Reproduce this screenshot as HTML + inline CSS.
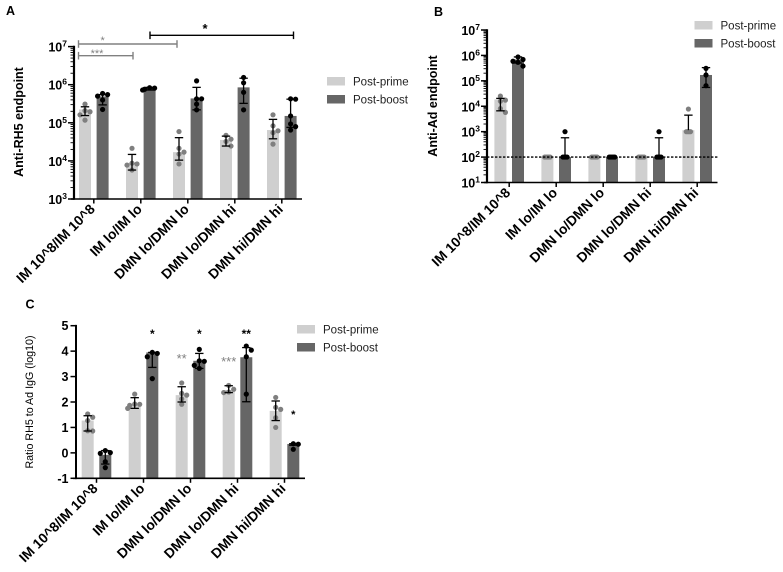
<!DOCTYPE html>
<html lang="en">
<head>
<meta charset="utf-8">
<title>Anti-RH5 and Anti-Ad endpoint charts</title>
<style>
html,body{margin:0;padding:0;background:#fff;}
svg{display:block;font-family:"Liberation Sans",sans-serif;filter:blur(0.3px);}
</style>
</head>
<body>
<svg id="figure" width="783" height="572" viewBox="0 0 783 572" xmlns="http://www.w3.org/2000/svg"></svg>
<script>
// Shared categories and labels
const categories = ['IM 10^8/IM 10^8', 'IM lo/IM lo', 'DMN lo/DMN lo', 'DMN lo/DMN hi', 'DMN hi/DMN hi'];
const seriesNames = ['Post-prime', 'Post-boost'];

// Panel A: log10 endpoint values
const aTickExponents = [3, 4, 5, 6, 7];
const aPrimeBars = [5.35, 3.94, 4.23, 4.55, 4.81];
const aBoostBars = [5.69, 5.93, 5.64, 5.93, 5.18];
const aPrimeHigh = [5.42, 4.17, 4.61, 4.65, 5.09];
const aPrimeLow = [5.19, 3.76, 4.02, 4.39, 4.58];
const aBoostHigh = [5.74, 5.93, 5.93, 6.17, 5.62];
const aBoostLow = [5.47, 5.86, 5.34, 5.51, 4.88];
const aPrimePoints = [
  [5.49, 5.32, 5.29, 5.21, 5.07],
  [4.33, 3.94, 3.92, 3.89, 3.76],
  [4.77, 4.33, 4.23, 4.18, 3.92],
  [4.67, 4.57, 4.51, 4.39],
  [5.21, 4.92, 4.79, 4.74, 4.44]
];
const aBoostPoints = [
  [5.77, 5.74, 5.70, 5.60, 5.35],
  [5.92, 5.91, 5.88, 5.86],
  [6.10, 5.63, 5.63, 5.49, 5.34],
  [6.19, 6.05, 5.80, 5.34],
  [5.63, 5.62, 5.18, 4.97, 4.90, 4.81]
];

// Panel B: log10 endpoint values
const bTickExponents = [1, 2, 3, 4, 5, 6, 7];
const bPrimeBars = [4.27, 2, 2, 2, 3.06];
const bBoostBars = [5.84, 2, 2, 2, 5.23];
const bPrimeHigh = [4.31, 2, 2, 2, 3.65];
const bPrimeLow = [3.82, 2, 2, 2, 3.06];
const bBoostHigh = [5.94, 2.76, 2, 2.76, 5.52];
const bBoostLow = [5.70, 2, 2, 2, 4.74];
const bThreshold = 2;
const bPrimePoints = [
  [4.40, 4.24, 4.20, 3.91, 3.76],
  [2, 2, 2, 2, 2],
  [2, 2, 2, 2, 2],
  [2, 2, 2, 2, 2],
  [3.89, 3, 3, 3, 3]
];
const bBoostPoints = [
  [5.94, 5.84, 5.77, 5.73, 5.58],
  [3, 2, 2, 2, 2],
  [2, 2, 2, 2, 2],
  [3, 2, 2, 2, 2],
  [5.49, 5.23, 4.81]
];

// Panel C: ratio values
const cTicks = [-1, 0, 1, 2, 3, 4, 5];
const cPrimeBars = [1.27, 1.88, 2.27, 2.47, 1.65];
const cBoostBars = [-0.08, 3.95, 3.62, 3.76, 0.35];
const cPrimeHigh = [1.46, 2.17, 2.60, 2.64, 2.04];
const cPrimeLow = [0.86, 1.75, 2.00, 2.37, 1.27];
const cBoostHigh = [0.09, 3.95, 3.91, 4.14, 0.36];
const cBoostLow = [-0.44, 3.36, 3.32, 2.01, 0.30];
const cPrimePoints = [
  [1.53, 1.40, 1.27, 0.87, 0.86],
  [2.31, 1.92, 1.91, 1.87, 1.75],
  [2.75, 2.34, 2.27, 2.12, 1.91],
  [2.65, 2.50, 2.39, 2.37],
  [2.18, 1.79, 1.71, 1.38, 1.00]
];
const cBoostPoints = [
  [0.09, 0.01, -0.02, -0.35, -0.58],
  [3.95, 3.91, 3.78, 2.92],
  [4.07, 3.62, 3.60, 3.44, 3.32],
  [4.20, 4.04, 3.78, 2.31],
  [0.36, 0.34, 0.14]
];
const cPrimeStars = ['', '', '**', '***', ''];
const cPrimeStarLevels = [0, 0, 3.53, 3.42, 0];
const cBoostStars = ['', '*', '*', '**', '*'];
const cBoostStarLevels = [0, 4.52, 4.52, 4.52, 1.37];

const NS = 'http://www.w3.org/2000/svg';
const root = document.getElementById('figure');
const PRIME = '#cfcfcf', BOOST = '#666666', PRIME_DOT = '#7f7f7f', BOOST_DOT = '#000000';

function add(parent, tag, attrs, name) {
  const el = document.createElementNS(NS, tag);
  for (const k in attrs) el.setAttribute(k, attrs[k]);
  
  
  parent.appendChild(el);
  return el;
}
function line(parent, x1, y1, x2, y2, color, width, name) {
  return add(parent, 'line', {x1: x1, y1: y1, x2: x2, y2: y2, stroke: color, 'stroke-width': width}, name);
}
function label(parent, x, y, text, size, weight, anchor, fill, name, transform) {
  const attrs = {x: x, y: y, 'font-size': size, 'font-weight': weight, 'text-anchor': anchor, fill: fill};
  if (transform) attrs.transform = transform;
  const el = add(parent, 'text', attrs, name);
  el.textContent = text;
  return el;
}
// Beeswarm offsets computed from the values through the y axis
function swarm(values, yScale) {
  const counts = {};
  values.forEach(v => { counts[v] = (counts[v] || 0) + 1; });
  const seen = {}, placed = [];
  const candidates = [0, 5, -5, 2.5, -2.5, 7, -7];
  return values.map(v => {
    const y = yScale(v);
    if (counts[v] > 2) {
      seen[v] = (seen[v] || 0) + 1;
      const off = (seen[v] - 1 - (counts[v] - 1) / 2) * 1.4;
      placed.push([off, y]);
      return off;
    }
    let best = candidates[candidates.length - 1];
    for (const c of candidates) {
      if (placed.every(p => Math.hypot(p[0] - c, p[1] - y) >= 5)) { best = c; break; }
    }
    placed.push([best, y]);
    return best;
  });
}
function drawSeries(g, cfg, s) {
  const baseY = cfg.y(cfg.base);
  s.bars.forEach((v, i) => {
    const cx = cfg.groupX(i) + s.shift;
    const top = cfg.y(v);
    add(g, 'rect', {x: cx - 6, y: top, width: 12, height: baseY - top, fill: s.fill}, s.key + '-bar-' + (i + 1));
  });
  s.points.forEach((vals, i) => {
    const cx = cfg.groupX(i) + s.shift;
    const offs = swarm(vals, cfg.y);
    vals.forEach((v, j) => {
      add(g, 'circle', {cx: cx + offs[j], cy: cfg.y(v), r: 2.6, fill: s.dot}, s.key + '-point-' + (i + 1) + '-' + (j + 1));
    });
  });
  s.bars.forEach((v, i) => {
    const cx = cfg.groupX(i) + s.shift;
    const yh = cfg.y(s.high[i]), yl = cfg.y(s.low[i]);
    if (Math.abs(yh - yl) < 0.01) return;
    const e = add(g, 'g', {}, s.key + '-error-bar-' + (i + 1));
    line(e, cx, yh, cx, yl, '#000', 1.3, 'error-stem');
    line(e, cx - 4.2, yh, cx + 4.2, yh, '#000', 1.3, 'error-cap-high');
    if (s.low[i] !== s.bars[i]) line(e, cx - 4.2, yl, cx + 4.2, yl, '#000', 1.3, 'error-cap-low');
  });
}
function drawXAxis(g, cfg) {
  const y0 = cfg.y(cfg.base);
  line(g, cfg.axisX - 3, y0, cfg.xEnd, y0, '#000', 1.6, 'x-axis-line');
  categories.forEach((c, i) => {
    const tx = cfg.groupX(i);
    line(g, tx, y0, tx, y0 + 4.5, '#000', 1.5, 'x-tick');
    const lx = tx + 2, ly = y0 + 11;
    label(g, lx, ly, c, cfg.catSize, 'bold', 'end', '#000', 'x-tick-label', 'rotate(-45 ' + lx + ' ' + ly + ')');
  });
}
function drawLogY(g, cfg, exps) {
  const x = cfg.axisX;
  line(g, x, cfg.y(exps[exps.length - 1]) - 0.8, x, cfg.y(exps[0]) + 0.8, '#000', 2.2, 'y-axis-line');
  exps.forEach((e, idx) => {
    line(g, x - 6, cfg.y(e), x, cfg.y(e), '#000', 1.5, 'y-major-tick');
    const t = label(g, x - 7, cfg.y(e) + 5, '', 12.5, 'bold', 'end', '#000', 'y-tick-label');
    const base = add(t, 'tspan', {}, 'y-tick-base');
    base.textContent = '10';
    const sup = add(t, 'tspan', {dy: -5, 'font-size': 8.5}, 'y-tick-exponent');
    sup.textContent = String(e);
    if (idx < exps.length - 1) {
      for (let m = 2; m < 10; m++) {
        line(g, x - 3.5, cfg.y(e + Math.log10(m)), x, cfg.y(e + Math.log10(m)), '#000', 0.9, 'y-minor-tick');
      }
    }
  });
}
function drawLegend(g, x, yPrime, yBoost) {
  [[seriesNames[0], PRIME, yPrime], [seriesNames[1], BOOST, yBoost]].forEach(item => {
    const e = add(g, 'g', {}, 'legend-entry');
    add(e, 'rect', {x: x, y: item[2], width: 18, height: 8.5, fill: item[1]}, 'legend-swatch');
    label(e, x + 26, item[2] + 8.5, item[0], 11.5, 'normal', 'start', '#222', 'legend-label');
  });
}
function panel(name) {
  return add(root, 'g', {}, name);
}
function linear(v0, p0, v1, p1) {
  return v => p0 + (v - v0) * (p1 - p0) / (v1 - v0);
}

// ---------- Panel A ----------
const gA = panel('panel-a');
const cfgA = {
  y: linear(3, 199, 7, 46.6), base: 3, axisX: 74, xEnd: 302, catSize: 13.8,
  groupX: i => 93.8 + i * 47
};
label(gA, 6, 15, 'A', 12.5, 'bold', 'start', '#000', 'panel-label-a');
drawSeries(gA, cfgA, {key: 'a-prime', shift: -8.8, fill: PRIME, dot: PRIME_DOT, bars: aPrimeBars, points: aPrimePoints, high: aPrimeHigh, low: aPrimeLow});
drawSeries(gA, cfgA, {key: 'a-boost', shift: 8.8, fill: BOOST, dot: BOOST_DOT, bars: aBoostBars, points: aBoostPoints, high: aBoostHigh, low: aBoostLow});
drawLogY(gA, cfgA, aTickExponents);
drawXAxis(gA, cfgA);
label(gA, 0, 0, 'Anti-RH5 endpoint', 12.5, 'bold', 'middle', '#000', 'y-axis-title-a', 'translate(23 122) rotate(-90)');
drawLegend(gA, 327, 77, 95);
// significance brackets
function bracket(g, x1, x2, y, color, name) {
  const b = add(g, 'g', {}, name);
  line(b, x1, y, x2, y, color, 1.4, 'bracket-bar');
  line(b, x1, y - 3.8, x1, y + 3.8, color, 1.4, 'bracket-end');
  line(b, x2, y - 3.8, x2, y + 3.8, color, 1.4, 'bracket-end');
}
bracket(gA, 78.5, 177, 44, '#808080', 'significance-bracket-gray-long');
bracket(gA, 78.5, 133, 55.7, '#808080', 'significance-bracket-gray-short');
bracket(gA, 150, 293.5, 35.3, '#000', 'significance-bracket-black');
label(gA, 102.6, 44, '*', 11, 'normal', 'middle', '#808080', 'significance-star');
label(gA, 97, 57, '***', 11, 'normal', 'middle', '#808080', 'significance-star');
label(gA, 205, 33, '*', 13, 'bold', 'middle', '#000', 'significance-star');

// ---------- Panel B ----------
const gB = panel('panel-b');
const cfgB = {
  y: linear(1, 182.5, 7, 30), base: 1, axisX: 487, xEnd: 717.5, catSize: 13.8,
  groupX: i => 509.2 + i * 47
};
label(gB, 434, 16, 'B', 12.5, 'bold', 'start', '#000', 'panel-label-b');
drawSeries(gB, cfgB, {key: 'b-prime', shift: -8.8, fill: PRIME, dot: PRIME_DOT, bars: bPrimeBars, points: bPrimePoints, high: bPrimeHigh, low: bPrimeLow});
drawSeries(gB, cfgB, {key: 'b-boost', shift: 8.8, fill: BOOST, dot: BOOST_DOT, bars: bBoostBars, points: bBoostPoints, high: bBoostHigh, low: bBoostLow});
add(gB, 'line', {x1: cfgB.axisX, y1: cfgB.y(bThreshold), x2: cfgB.xEnd, y2: cfgB.y(bThreshold), stroke: '#000', 'stroke-width': 1.3, 'stroke-dasharray': '2.4 1.6'}, 'threshold-line');
drawLogY(gB, cfgB, bTickExponents);
drawXAxis(gB, cfgB);
label(gB, 0, 0, 'Anti-Ad endpoint', 12.5, 'bold', 'middle', '#000', 'y-axis-title-b', 'translate(437 106) rotate(-90)');
drawLegend(gB, 694.5, 21, 39);

// ---------- Panel C ----------
const gC = panel('panel-c');
const cfgC = {
  y: linear(-1, 478.3, 5, 325.7), base: -1, axisX: 76, xEnd: 305, catSize: 13.8,
  groupX: i => 96.5 + i * 47
};
label(gC, 25.5, 308.5, 'C', 12.5, 'bold', 'start', '#000', 'panel-label-c');
drawSeries(gC, cfgC, {key: 'c-prime', shift: -8.8, fill: PRIME, dot: PRIME_DOT, bars: cPrimeBars, points: cPrimePoints, high: cPrimeHigh, low: cPrimeLow});
drawSeries(gC, cfgC, {key: 'c-boost', shift: 8.8, fill: BOOST, dot: BOOST_DOT, bars: cBoostBars, points: cBoostPoints, high: cBoostHigh, low: cBoostLow});
line(gC, cfgC.axisX, cfgC.y(5) - 0.8, cfgC.axisX, cfgC.y(-1) + 0.8, '#000', 2, 'y-axis-line');
cTicks.forEach(t => {
  line(gC, cfgC.axisX - 5.5, cfgC.y(t), cfgC.axisX, cfgC.y(t), '#000', 1.5, 'y-major-tick');
  label(gC, cfgC.axisX - 7.5, cfgC.y(t) + 4.5, String(t), 12.5, 'bold', 'end', '#000', 'y-tick-label');
});
drawXAxis(gC, cfgC);
label(gC, 0, 0, 'Ratio RH5 to Ad IgG (log10)', 10.7, 'normal', 'middle', '#000', 'y-axis-title-c', 'translate(33 402) rotate(-90)');
drawLegend(gC, 297, 325, 343);
cPrimeStars.forEach((s, i) => {
  if (s) label(gC, cfgC.groupX(i) - 8.8, cfgC.y(cPrimeStarLevels[i]), s, 13, 'normal', 'middle', '#808080', 'significance-star');
});
cBoostStars.forEach((s, i) => {
  if (s) label(gC, cfgC.groupX(i) + 8.8, cfgC.y(cBoostStarLevels[i]), s, i === 4 ? 11 : 12, 'bold', 'middle', '#000', 'significance-star');
});
</script>
</body>
</html>
